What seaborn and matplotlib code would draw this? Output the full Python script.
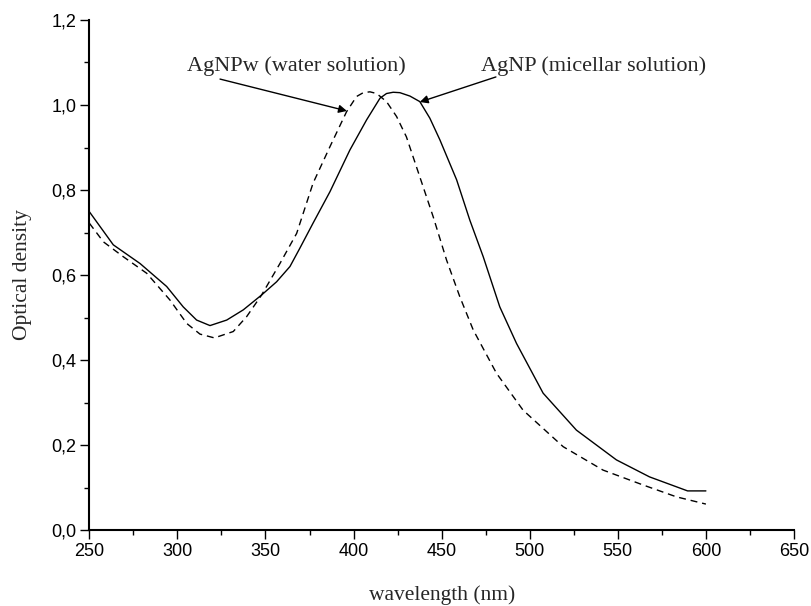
import numpy as np
import pandas as pd
import matplotlib
matplotlib.use("Agg")
import matplotlib.pyplot as plt
import seaborn as sns
from matplotlib.ticker import FixedLocator, MultipleLocator

# ---- data ----
solid_wl = [250, 263.6, 278.8, 293.9, 303.3, 310.9, 318.5, 328, 337.4, 347.8, 356.3, 363.9,
            369.5, 377, 386.6, 397.9, 407.4, 415, 418.7, 422.5, 426.3, 432, 437.6, 443.3,
            449, 458.5, 466, 473.6, 483, 492.5, 507.6, 526.5, 549.2, 568, 589.6, 600]
solid_od = [0.749, 0.671, 0.627, 0.573, 0.525, 0.494, 0.481, 0.494, 0.518, 0.553, 0.584, 0.620,
            0.663, 0.722, 0.796, 0.894, 0.965, 1.016, 1.027, 1.030, 1.029, 1.021, 1.008, 0.969,
            0.918, 0.824, 0.729, 0.643, 0.525, 0.439, 0.322, 0.235, 0.165, 0.125, 0.092, 0.092]

dashed_wl = [250, 258, 269.3, 282.6, 295.8, 305.3, 312.8, 321, 331.7, 339.3, 347.8, 358.2,
             367.7, 377, 386.6, 396, 401.7, 405.5, 409.3, 413.1, 418.7, 424.4, 430, 437.6,
             445.2, 452.8, 460.3, 467.9, 481.1, 496.2, 519, 541.6, 564.3, 583.3, 600]
dashed_od = [0.722, 0.678, 0.643, 0.604, 0.541, 0.486, 0.461, 0.452, 0.467, 0.502, 0.553, 0.627,
             0.698, 0.816, 0.902, 0.984, 1.020, 1.029, 1.031, 1.027, 1.008, 0.973, 0.925, 0.831,
             0.737, 0.635, 0.549, 0.471, 0.369, 0.282, 0.196, 0.141, 0.106, 0.078, 0.061]

x_ticks = [250, 300, 350, 400, 450, 500, 550, 600, 650]
x_ticklabels = ["250", "300", "350", "400", "450", "500", "550", "600", "650"]
y_ticks = [0.0, 0.2, 0.4, 0.6, 0.8, 1.0, 1.2]
y_ticklabels = ["0,0", "0,2", "0,4", "0,6", "0,8", "1,0", "1,2"]

label_micellar = "AgNP (micellar solution)"
label_water = "AgNPw (water solution)"

df_s = pd.DataFrame({"wl": solid_wl, "od": solid_od})
df_d = pd.DataFrame({"wl": dashed_wl, "od": dashed_od})

sns.set_style("ticks")
plt.rcParams["font.family"] = ["Liberation Sans", "DejaVu Sans"]

fig = plt.figure(figsize=(8.12, 6.06), dpi=100)
ax = fig.add_axes([0.110, 0.1254, 0.8678, 0.8416])

sns.lineplot(data=df_s, x="wl", y="od", ax=ax, color="black", linewidth=1.0, sort=False)
sns.lineplot(data=df_d, x="wl", y="od", ax=ax, color="black", linewidth=1.0, sort=False,
             linestyle=(0, (5, 3.5)))

ax.set_xlim(250, 650)
ax.set_ylim(0, 1.2)
ax.xaxis.set_major_locator(FixedLocator(x_ticks))
ax.set_xticklabels(x_ticklabels)
ax.yaxis.set_major_locator(FixedLocator(y_ticks))
ax.set_yticklabels(y_ticklabels)
ax.xaxis.set_minor_locator(MultipleLocator(25))
ax.yaxis.set_minor_locator(MultipleLocator(0.1))

for s in ["top", "right"]:
    ax.spines[s].set_visible(False)
for s in ["left", "bottom"]:
    ax.spines[s].set_linewidth(1.5)
    ax.spines[s].set_color("black")

ax.tick_params(which="major", direction="out", length=6.5, width=1.0, labelsize=13, pad=3, colors="black")
ax.tick_params(which="minor", direction="out", length=3.3, width=1.0, colors="black")

serif = ["Liberation Serif", "DejaVu Serif"]
ax.set_xlabel("wavelength (nm)", family=serif, fontsize=15.5, labelpad=18)
ax.set_ylabel("Optical density", family=serif, fontsize=15.5, labelpad=14)

arrow = dict(arrowstyle="-|>", color="black", lw=1.0, mutation_scale=12, shrinkA=0, shrinkB=0)
ax.annotate("", xy=(396.2, 0.986), xytext=(324.2, 1.061), arrowprops=arrow)
ax.annotate("", xy=(437.6, 1.007), xytext=(480.8, 1.066), arrowprops=arrow)
ax.text(367.3, 1.092, label_water, family=serif, fontsize=16, ha="center", va="center")
ax.text(536.5, 1.092, label_micellar, family=serif, fontsize=16, ha="center", va="center")

fig.savefig("out.png", dpi=100)
